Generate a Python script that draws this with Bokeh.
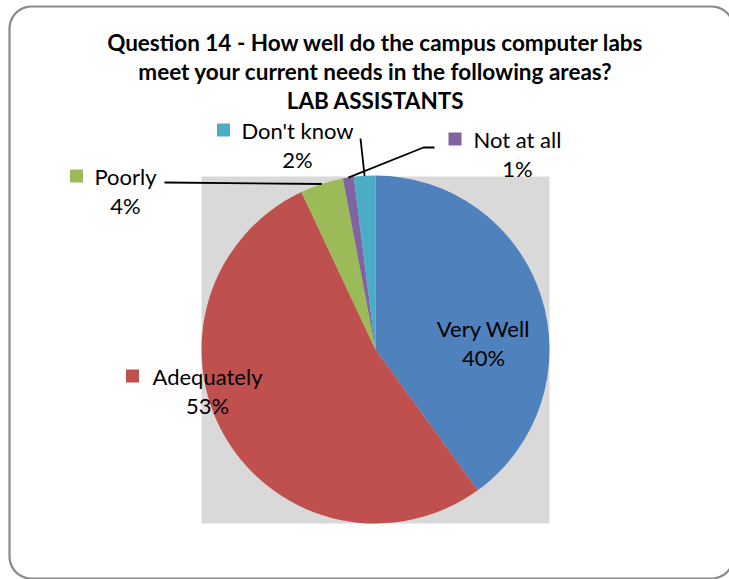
import numpy as np
from bokeh.plotting import figure
from bokeh.models import Range1d
from bokeh.core.properties import value
from bokeh.embed import file_html
from bokeh.resources import INLINE

# ---- data ----
categories = ["Very Well", "Adequately", "Poorly", "Not at all", "Don't know"]
shares = [40, 53, 4, 1, 2]
pct_labels = ["40%", "53%", "4%", "1%", "2%"]
colors = ["#4F81BD", "#C0504D", "#9BBB59", "#8064A2", "#4BACC6"]
title_lines = ["Question 14 - How well do the campus computer labs",
               "meet your current needs in the following areas?",
               "LAB ASSISTANTS"]

W, H = 729, 579
TXT_DY = -7  # correction for where the text baseline lands


def Y(py):
    return H - py


p = figure(width=W, height=H, output_backend="svg", toolbar_location=None,
           x_range=Range1d(0, W), y_range=Range1d(0, H),
           min_border=0)
p.axis.visible = False
p.grid.visible = False
p.outline_line_color = None
p.background_fill_color = "white"
p.border_fill_color = "white"

FONT = "Lato"

# rounded border
def rounded_rect(x0, y0, x1, y1, r, n=12):
    xs, ys = [], []
    corners = [(x1 - r, y0 + r, -90, 0), (x1 - r, y1 - r, 0, 90),
               (x0 + r, y1 - r, 90, 180), (x0 + r, y0 + r, 180, 270)]
    for cx_, cy_, a0, a1 in corners:
        t = np.radians(np.linspace(a0, a1, n))
        xs.extend(cx_ + r * np.cos(t))
        ys.extend(cy_ + r * np.sin(t))
    xs.append(xs[0]); ys.append(ys[0])
    return xs, [Y(v) for v in ys]

bx, by = rounded_rect(9, 6, 733, 578, 22)
p.line(bx, by, line_color="#8A8A8A", line_width=2.2)

# plot area
cx, cy, R = 375, 349, 174
p.quad(left=cx - R, right=cx + R, top=Y(cy - R + 1), bottom=Y(cy + R), fill_color="#D9D9D9", line_color=None)

# pie
tot = float(sum(shares))
cum = np.cumsum([0] + shares) / tot
start = np.pi / 2 - 2 * np.pi * cum[:-1]
end = np.pi / 2 - 2 * np.pi * cum[1:]
p.wedge(x=cx, y=Y(cy), radius=R, start_angle=start, end_angle=end,
        direction="clock", fill_color=colors, line_color=None)
mid = (start + end) / 2


def edge(i, f=1.0):
    return cx + f * R * np.cos(mid[i]), Y(cy) + f * R * np.sin(mid[i])

# leader lines
ex, ey = edge(2)
p.line([164, ex], [Y(182), ey], line_color="black", line_width=1.8)
ex, ey = edge(3)
p.line([434, 423, ex], [Y(147), Y(147), ey], line_color="black", line_width=1.8)
ex, ey = edge(4)
p.line([360, ex], [Y(138), ey], line_color="black", line_width=1.8)

# title
p.text(x=[375, 375, 375], y=[Y(v + TXT_DY) for v in (49, 77.5, 106.5)], text=title_lines,
       text_font=value(FONT), text_font_style="bold", text_font_size="22.5px",
       text_align="center", text_baseline="alphabetic", text_color="black")

# data labels: (center x, baseline of name, key x)
lab_x = [483, 207, 125, 517, 297]
lab_y = [335, 383, 183, 146, 137]
key_x = [None, 132, 76, 454.5, 223]
p.text(x=lab_x, y=[Y(v + TXT_DY) for v in lab_y], text=categories,
       text_font=value(FONT), text_font_size="22px", text_align="center",
       text_baseline="alphabetic", text_color="black")
p.text(x=lab_x, y=[Y(v + 29 + TXT_DY) for v in lab_y], text=pct_labels,
       text_font=value(FONT), text_font_size="22px", text_align="center",
       text_baseline="alphabetic", text_color="black")
kx = [k for k in key_x if k is not None]
ky = [Y(lab_y[i] - 7.5) for i, k in enumerate(key_x) if k is not None]
kc = [colors[i] for i, k in enumerate(key_x) if k is not None]
p.scatter(x=kx, y=ky, marker="square", size=13, fill_color=kc, line_color=None)

open("out.html", "w").write(file_html(p, INLINE))
